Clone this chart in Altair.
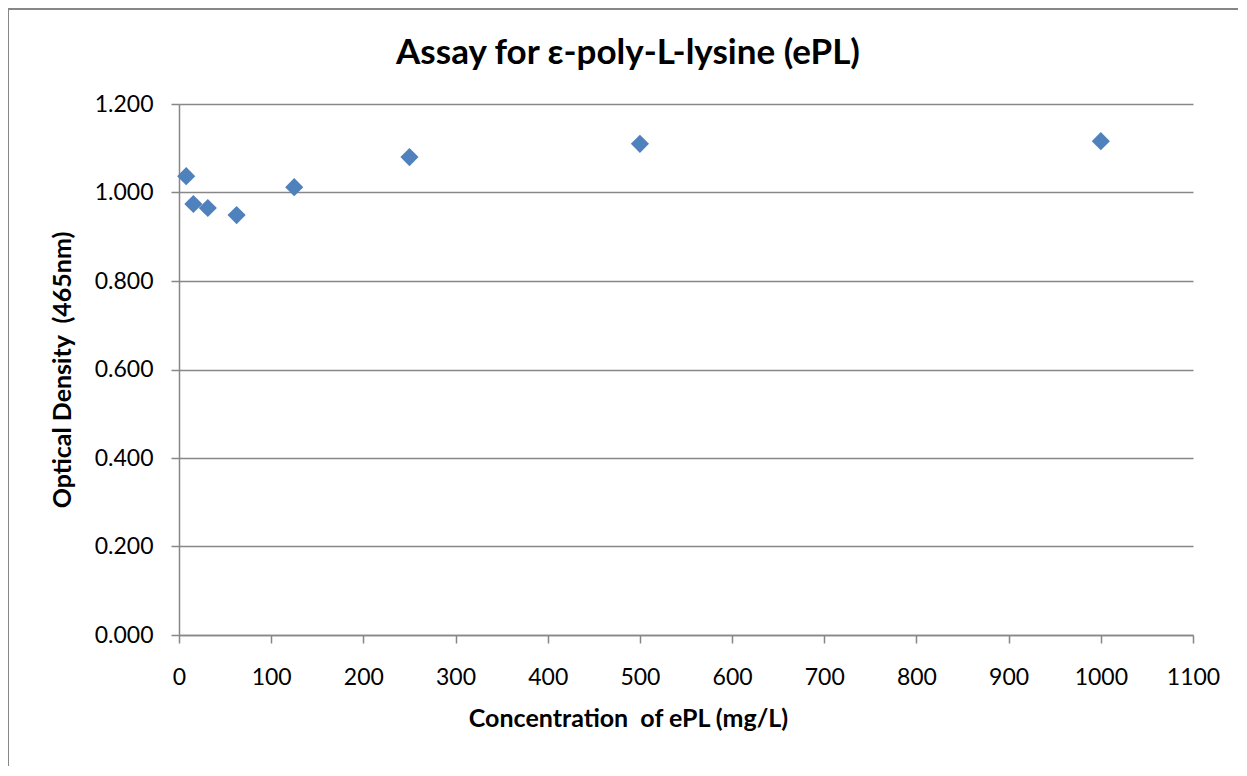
import altair as alt
import pandas as pd

conc = [7.8, 15.6, 31.25, 62.5, 125, 250, 500, 1000]
od = [1.037, 0.974, 0.965, 0.949, 1.012, 1.080, 1.110, 1.116]
x_ticks = [0, 100, 200, 300, 400, 500, 600, 700, 800, 900, 1000, 1100]
y_ticks = [0.0, 0.2, 0.4, 0.6, 0.8, 1.0, 1.2]
title_text = "Assay for ε-poly-L-lysine (ePL)"
x_title = "Concentration\u00a0 of ePL (mg/L)"
y_title = "Optical Density\u00a0 (465nm)"

df = pd.DataFrame({"conc": conc, "od": od})

W, H = 1014, 531
FONT = "Lato"
GRAY = "#878787"

one = pd.DataFrame({"a": [0]})

frame = alt.Chart(one).mark_rect(
    fill=None, stroke=GRAY, strokeWidth=2
).encode(
    x=alt.value(-171), y=alt.value(-95), x2=alt.value(W + 200), y2=alt.value(H + 300)
)

title = alt.Chart(one).mark_text(
    text=title_text, font=FONT, fontSize=35, fontWeight="bold", color="black",
    align="center", baseline="middle"
).encode(x=alt.value(449), y=alt.value(-51))

points = alt.Chart(df).mark_point(
    shape="diamond", filled=True, size=330, color="#4F81BD", opacity=1
).encode(
    x=alt.X("conc:Q", scale=alt.Scale(domain=[0, 1100], nice=False),
            axis=alt.Axis(values=x_ticks, format="d", title=x_title,
                          grid=False, tickSize=8, labelPadding=23, labelFlush=False,
                          labelOverlap=False,
                          titleX=449, titleY=83, titleBaseline="middle", titleAlign="center")),
    y=alt.Y("od:Q", scale=alt.Scale(domain=[0, 1.2], nice=False),
            axis=alt.Axis(values=y_ticks, format=".3f", title=y_title,
                          grid=True, tickSize=8, labelPadding=18,
                          titleX=-117, titleY=H / 2, titleAngle=-90,
                          titleBaseline="middle", titleAlign="center")),
)

chart = alt.layer(frame, points, title).properties(
    width=W, height=H,
    autosize=alt.AutoSizeParams(type="none"),
    padding={"left": 171, "top": 96, "right": 45, "bottom": 131},
).configure_view(stroke=None).configure_axis(
    labelFont=FONT, labelFontSize=23, labelColor="black",
    titleFont=FONT, titleFontSize=25, titleFontWeight="bold", titleColor="black",
    domainColor=GRAY, domainWidth=1.5, tickColor=GRAY, tickWidth=1.5,
    gridColor=GRAY, gridWidth=1.5, gridOpacity=1,
)

chart.save("out.html", embed_options={"renderer": "svg", "actions": False})
